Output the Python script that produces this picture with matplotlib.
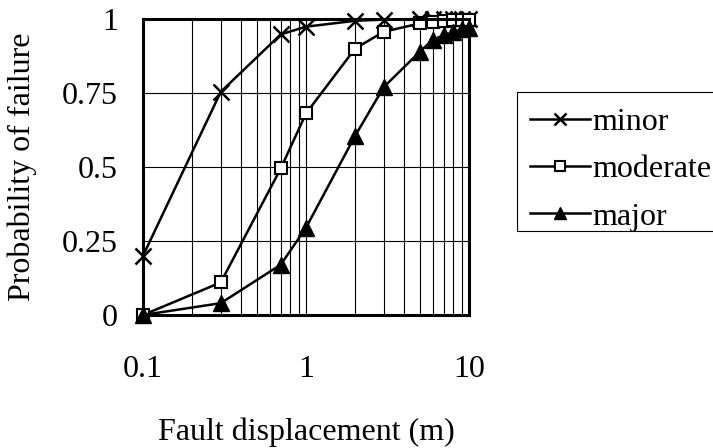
import matplotlib
matplotlib.use("Agg")
import matplotlib.pyplot as plt
from matplotlib.patches import Rectangle
from matplotlib.ticker import FixedLocator, NullFormatter

plt.rcParams['font.family'] = ['Liberation Serif', 'DejaVu Serif']

disp = [0.1, 0.3, 0.7, 1, 2, 3, 5, 6, 7, 8, 9, 10]
minor = [0.20, 0.754, 0.948, 0.974, 0.994, 0.998, 1.0, 1.0, 1.0, 1.0, 1.0, 1.0]
moderate = [0.0, 0.11, 0.495, 0.681, 0.90, 0.957, 0.985, 0.99, 0.993, 0.995, 0.997, 0.998]
major = [0.0, 0.04, 0.17, 0.295, 0.605, 0.77, 0.89, 0.93, 0.945, 0.955, 0.965, 0.97]

xticks = [0.1, 1, 10]
xticklabels = ["0.1", "1", "10"]
yticks = [0, 0.25, 0.5, 0.75, 1]
yticklabels = ["0", "0.25", "0.5", "0.75", "1"]

FS = 23

fig = plt.figure(figsize=(7.13, 4.48), dpi=100)
ax = fig.add_axes([143/713, 1 - 315/448, (469-143)/713, (315-19)/448])

ax.plot(disp, minor, color='black', lw=1.8, marker='x', ms=11, mew=1.8, label='minor', clip_on=False, zorder=5)
ax.plot(disp, moderate, color='black', lw=1.8, marker='s', ms=8.5, mfc='white', mew=1.5, label='moderate', clip_on=False, zorder=5)
ax.plot(disp, major, color='black', lw=1.8, marker='^', ms=11, mfc='black', label='major', clip_on=False, zorder=5)

ax.set_xscale('log')
ax.set_xlim(0.1, 10)
ax.set_ylim(0, 1)
ax.xaxis.set_major_locator(FixedLocator(xticks))
ax.set_xticklabels(xticklabels)
ax.xaxis.set_minor_locator(FixedLocator([0.2, 0.3, 0.4, 0.5, 0.6, 0.7, 0.8, 0.9, 2, 3, 4, 5, 6, 7, 8, 9]))
ax.xaxis.set_minor_formatter(NullFormatter())
ax.set_yticks(yticks)
ax.set_yticklabels(yticklabels)
ax.grid(True, which='both', axis='x', color='black', lw=0.8)
ax.grid(True, which='major', axis='y', color='black', lw=0.8)
ax.tick_params(which='both', length=0, labelsize=FS)
ax.tick_params(axis='x', pad=29)
ax.tick_params(axis='y', pad=18)
for s in ax.spines.values():
    s.set_linewidth(2.2)
    s.set_zorder(6)

ax.set_xlabel('Fault displacement (m)', fontsize=FS, labelpad=24)
ax.set_ylabel('Probability of failure', fontsize=FS, labelpad=18)

# legend frame (drawn separately for asymmetric padding)
fig.patches.append(Rectangle((517/713, 1 - 231/448), (713 - 517 + 10)/713, (231 - 92)/448,
                             transform=fig.transFigure, fill=False, edgecolor='black', lw=0.8))
leg = fig.legend(loc='upper left', bbox_to_anchor=(517/713, 1 - 95/448), fontsize=FS,
                 frameon=False, handlelength=1.9, handletextpad=0.05, borderpad=0.4,
                 labelspacing=0.56, borderaxespad=0, markerscale=0.85)

fig.savefig('out.png', dpi=100)
